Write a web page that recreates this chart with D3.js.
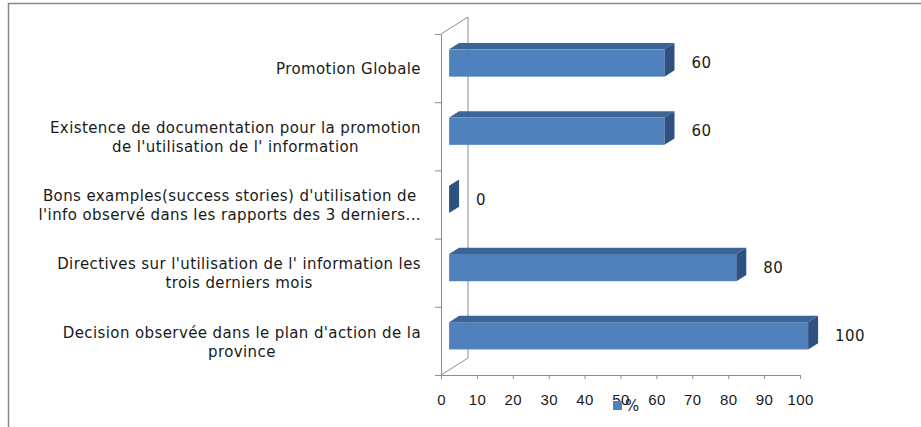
<!DOCTYPE html>
<html>
<head>
<meta charset="utf-8">
<script src="https://cdn.jsdelivr.net/npm/d3@7"></script>
<style>
  body { margin: 0; background: #fff; }
  svg { display: block; font-family: "DejaVu Sans", sans-serif; }
  .lbl { font-size: 15px; letter-spacing: 0.4px; fill: #1a1a1a; }
</style>
</head>
<body>
<div id="chart"></div>
<script>
// categories, top to bottom, each split in display lines
const categories = [
  "Promotion Globale",
  "Existence de documentation pour la promotion de l'utilisation de l' information",
  "Bons examples(success stories) d'utilisation de l'info observé dans les rapports des 3 derniers...",
  "Directives sur l'utilisation de l' information les trois derniers mois",
  "Decision observée dans le plan d'action de la province"
];
const categoryLines = [
  ["Promotion Globale"],
  ["Existence de documentation pour la promotion", "de l'utilisation de l' information"],
  ["Bons examples(success stories) d'utilisation de", "l'info observé dans les rapports des 3 derniers..."],
  ["Directives sur l'utilisation de l' information les", "trois derniers mois"],
  ["Decision observée dans le plan d'action de la", "province"]
];
const values = [60, 60, 0, 80, 100];
const xTicks = [0, 10, 20, 30, 40, 50, 60, 70, 80, 90, 100];
const seriesName = "%";

const width = 921;
const height = 427;

// plot frame (front plane)
const x0 = 441, x1 = 800, yTop = 34, yBot = 375;
// 3d depth of the floor
const depth = [27, -17];
const barFront = 0.3;   // fraction of depth where bars start
const barDepth = 0.37;  // fraction of depth bars take

const svg = d3.select("#chart").append("svg")
  .attr("width", width).attr("height", height);

// outer border
svg.append("rect")
  .attr("x", 8.5).attr("y", 3.5)
  .attr("width", 1000).attr("height", 1000)
  .attr("fill", "none").attr("stroke", "#888").attr("stroke-width", 1.5);

const xScale = d3.scaleLinear().domain([0, 100]).range([x0, x1]);
const yScale = d3.scaleBand().domain(categories).range([yTop, yBot]);
const yBounds = d3.scaleLinear().domain([0, categories.length]).range([yBot, yTop]);

// walls: back vertical, top diagonal, floor diagonal
const walls = svg.append("g").attr("stroke", "#8c8c8c").attr("fill", "none");
walls.append("line")
  .attr("x1", x0 + depth[0]).attr("y1", yTop + depth[1])
  .attr("x2", x0 + depth[0]).attr("y2", yBot + depth[1]);
walls.append("line")
  .attr("x1", x0).attr("y1", yTop)
  .attr("x2", x0 + depth[0]).attr("y2", yTop + depth[1]);
walls.append("line")
  .attr("x1", x0).attr("y1", yBot)
  .attr("x2", x0 + depth[0]).attr("y2", yBot + depth[1]);

// x axis
const xAxis = svg.append("g")
  .attr("transform", "translate(0," + yBot + ")")
  .call(d3.axisBottom(xScale).tickValues(xTicks).tickSize(4).tickSizeOuter(0).tickPadding(15));
xAxis.select(".domain").attr("stroke", "#8c8c8c");
xAxis.selectAll(".tick line").attr("stroke", "#8c8c8c");
xAxis.selectAll(".tick text")
  .attr("class", "lbl")
  .attr("font-family", null).attr("font-size", null);

// y axis (ticks at band boundaries, no labels)
const yAxis = svg.append("g")
  .attr("transform", "translate(" + x0 + ",0)")
  .call(d3.axisLeft(yBounds).ticks(categories.length).tickFormat("").tickSize(6).tickSizeOuter(0));
yAxis.select(".domain").attr("stroke", "#8c8c8c");
yAxis.selectAll(".tick line").attr("stroke", "#8c8c8c");

// category labels: lines centred within a right-aligned block
const labelRight = 421;
const lineH = 19;
categoryLines.forEach(function (lines, i) {
  const cy = yScale(categories[i]) + yScale.bandwidth() / 2 + 1;
  const g = svg.append("g");
  const texts = lines.map(function (t, j) {
    return g.append("text")
      .attr("class", "lbl")
      .attr("y", cy + (j - (lines.length - 1) / 2) * lineH)
      .attr("dy", "0.35em")
      .attr("text-anchor", "middle")
      .text(t);
  });
  const maxW = d3.max(texts, function (t) { return t.node().getComputedTextLength(); });
  texts.forEach(function (t) { t.attr("x", labelRight - maxW / 2); });
});

// bars
const fdx = depth[0] * barFront, fdy = depth[1] * barFront;
const bdx = depth[0] * barDepth, bdy = depth[1] * barDepth;
const barH = yScale.bandwidth() * 0.4;

const bars = svg.append("g").selectAll("g")
  .data(values.map(function (v, i) { return { cat: categories[i], value: v }; }))
  .join("g");

bars.each(function (d) {
  const g = d3.select(this);
  const left = xScale(0) + fdx;
  const right = xScale(d.value) + fdx;
  const top = yScale(d.cat) + yScale.bandwidth() / 2 - barH / 2 + fdy;
  const bottom = top + barH;

  // top face
  g.append("polygon")
    .attr("points", [[left, top], [left + bdx, top + bdy], [right + bdx, top + bdy], [right, top]].join(" "))
    .attr("fill", "#3c6494");
  // front face
  g.append("rect")
    .attr("x", left).attr("y", top)
    .attr("width", right - left).attr("height", barH)
    .attr("fill", "#4f81bd");
  // side face
  g.append("polygon")
    .attr("points", [[right, top], [right + bdx, top + bdy], [right + bdx, bottom + bdy], [right, bottom]].join(" "))
    .attr("fill", "#2f5181");

  // value label
  g.append("text")
    .attr("class", "lbl")
    .attr("x", right + bdx + 17)
    .attr("y", (top + bottom) / 2)
    .attr("dy", "0.35em")
    .text(d.value);
});

// legend (sits over the "50" tick label, as in the original)
const legend = svg.append("g").attr("transform", "translate(613,401)");
legend.append("rect").attr("width", 9).attr("height", 9).attr("fill", "#4f81bd");
legend.append("text").attr("class", "lbl").attr("x", 12).attr("y", 5).attr("dy", "0.35em").text(seriesName);
</script>
</body>
</html>
